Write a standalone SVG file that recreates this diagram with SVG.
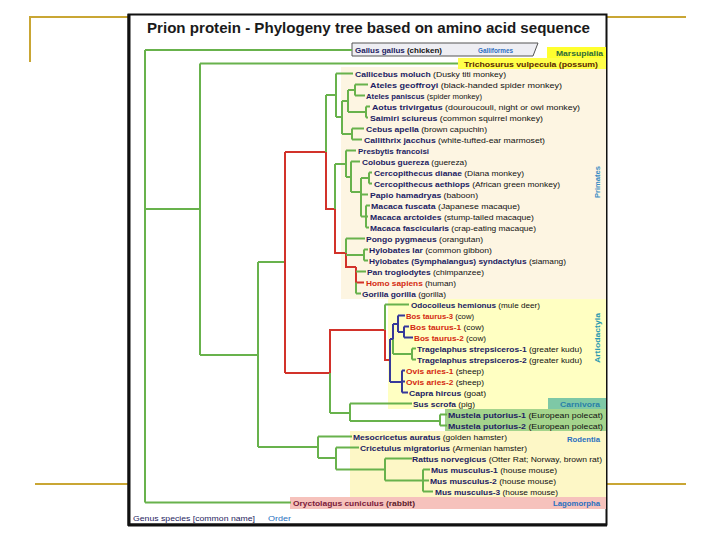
<svg xmlns="http://www.w3.org/2000/svg" width="720" height="540" viewBox="0 0 720 540">
<style>
.gold{stroke:#c9a634;stroke-width:2;fill:none}
.e{fill:none;stroke:#68b24c;stroke-width:2}
.r{stroke:#d2322a}
.b{stroke:#36399a}
text{font-family:"Liberation Sans",Arial,sans-serif;font-size:8px}
.n{font-weight:bold;fill:#221c62}
.rd{font-weight:bold;fill:#d42a10}
.c{fill:#111}
.lab{font-weight:bold}
</style>
<rect width="720" height="540" fill="#fff"/>
<g id="slide">
<path class="gold" d="M30 62V17H128M606 17H686M35 484H128M606 484H686"/>
<rect x="128.5" y="14.5" width="478" height="510" fill="#fff" stroke="#111" stroke-width="2"/>
<path d="M129 14V526M128 525H607" stroke="#111" stroke-width="3"/>
</g>
<text id="title" x="147" y="33" textLength="443" lengthAdjust="spacingAndGlyphs" style="font-size:15px;font-weight:bold;fill:#1a1a1a">Prion protein - Phylogeny tree based on amino acid sequence</text>
<g id="backgrounds">
<rect x="341" y="67" width="265" height="232" fill="#fdf5e2"/>
<rect x="388" y="299" width="218" height="110" fill="#ffffc2"/>
<rect x="548" y="398" width="58" height="11" fill="#7ec8a6"/>
<rect x="445" y="409" width="161" height="22" fill="#a4d48c"/>
<rect x="350" y="431" width="256" height="66" fill="#fdf7c6"/>
<rect x="290" y="497" width="316" height="12" fill="#f6c2bc"/>
<polygon points="352,43 538,43 533,56 352,56" fill="#eeeef3" stroke="#555" stroke-width="1"/>
<rect x="547" y="47" width="59" height="12" fill="#ffff2e"/>
<rect x="458" y="58" width="148" height="11" fill="#ffff4a"/>
</g>
<g id="connectors">
<path class="e" d="M145 50V502.5M145 50H352M145 209H200M145 502.5H291"/>
<path class="e" d="M200 63.5V355M200 63.5H458M200 355H258"/>
<path class="e" d="M258 262V447M258 262H285M258 447H318"/>
<path class="e r" d="M285 152V373M285 152H326M285 373H330M326 152V209H335M335 209V253H346M346 253V267H356M356 267V282.5H364M330 373V330H385M385 330V360H390"/>
<path class="e" d="M326 95V152M326 95H336M336 73.5V117M336 73.5H353M336 117H342M342 101V134M342 101H348M342 134H352M348 90V112M348 90H355M348 112H366M355 84.5V95.5M355 84.5H368M355 95.5H365M366 106.5V117.5M366 106.5H370M366 117.5H368M352 128.5V139.5M352 128.5H364M352 139.5H362"/>
<path class="e" d="M335 164V209M335 164H346M346 150.5V177M346 150.5H356M346 177H351M351 161.5V192M351 161.5H360M351 192H361M361 178V216.5M361 178H369M361 194.5H368M361 216.5H368M369 172.5V183.5M369 172.5H372M369 183.5H372M366 205.5V227.5M366 205.5H370M366 227.5H369"/>
<path class="e" d="M346 238.5V253M346 238.5H365M346 255H364M364 249.5V260.5M364 249.5H368M364 260.5H368M356 282.5V293.5M356 271.5H366M356 293.5H361"/>
<path class="e" d="M330 373V413M330 413H350M385 304.5V330M385 304.5H409M393 339V354M393 354H412M412 348.5V359.5M412 348.5H416M412 359.5H416"/>
<path class="e b" d="M390 339V382M390 339H393M393 324V339M393 324H398M398 315.5V332M398 315.5H405M398 332H404M404 326.5V337.5M404 326.5H409M404 337.5H413M390 382H402M402 370.5V392.5M402 370.5H405M402 381.5H405M402 392.5H408"/>
<path class="e" d="M350 403.5V421M350 403.5H412M350 421H440M440 414.5V425.5M440 414.5H447M440 425.5H447"/>
<path class="e" d="M318 436.5V458M318 436.5H352M318 458H336M336 447.5V469.5M336 447.5H359M336 469.5H385M385 458.5V480.5M385 458.5H412M385 480.5H423M423 469.5V491.5M423 469.5H430M423 480.5H429M423 491.5H433"/>
</g>
<g id="labels">
<text x="478" y="53" textLength="35" lengthAdjust="spacingAndGlyphs" class="lab" fill="#2f6fc0">Galliformes</text>
<text x="556" y="56" textLength="47" lengthAdjust="spacingAndGlyphs" class="lab" fill="#2d6b3a">Marsupialia</text>
<text transform="translate(600,182) rotate(-90)" text-anchor="middle" textLength="32" lengthAdjust="spacingAndGlyphs" class="lab" fill="#3a8cc4">Primates</text>
<text transform="translate(600,338) rotate(-90)" text-anchor="middle" textLength="50" lengthAdjust="spacingAndGlyphs" class="lab" fill="#2a9ab0">Artiodactyla</text>
<text x="560" y="407" textLength="40" lengthAdjust="spacingAndGlyphs" class="lab" fill="#2a80a8">Carnivora</text>
<text x="567" y="442" textLength="33" lengthAdjust="spacingAndGlyphs" class="lab" fill="#2a70c0">Rodentia</text>
<text x="553" y="506" textLength="47" lengthAdjust="spacingAndGlyphs" class="lab" fill="#2a70c0">Lagomorpha</text>
<text x="133" y="521" textLength="122" lengthAdjust="spacingAndGlyphs" fill="#1e1b5e">Genus species [common name]</text>
<text x="268" y="521" textLength="23" lengthAdjust="spacingAndGlyphs" fill="#2a70c0">Order</text>
</g>
<g id="n-gallus"><text x="355" y="53" textLength="87" lengthAdjust="spacingAndGlyphs"><tspan class="n">Gallus gallus</tspan><tspan class="c" style="font-weight:bold"> (chicken)</tspan></text></g>
<g id="n-trichosurus"><text x="464" y="66.5" textLength="134" lengthAdjust="spacingAndGlyphs" style="font-weight:bold;fill:#5a2800">Trichosurus vulpecula (possum)</text></g>
<g id="n-callicebus"><text x="355" y="76.5" textLength="151" lengthAdjust="spacingAndGlyphs"><tspan class="n">Callicebus moluch</tspan><tspan class="c"> (Dusky titi monkey)</tspan></text></g>
<g id="n-ateles-g"><text x="370" y="87.5" textLength="192" lengthAdjust="spacingAndGlyphs"><tspan class="n">Ateles geoffroyi</tspan><tspan class="c"> (black-handed spider monkey)</tspan></text></g>
<g id="n-ateles-p"><text x="366" y="98.5" textLength="116" lengthAdjust="spacingAndGlyphs"><tspan class="n">Ateles paniscus</tspan><tspan class="c"> (spider monkey)</tspan></text></g>
<g id="n-aotus"><text x="372" y="109.5" textLength="208" lengthAdjust="spacingAndGlyphs"><tspan class="n">Aotus trivirgatus</tspan><tspan class="c"> (douroucouli, night or owl monkey)</tspan></text></g>
<g id="n-saimiri"><text x="370" y="120.5" textLength="173" lengthAdjust="spacingAndGlyphs"><tspan class="n">Saimiri sciureus</tspan><tspan class="c"> (common squirrel monkey)</tspan></text></g>
<g id="n-cebus"><text x="366" y="131.5" textLength="121" lengthAdjust="spacingAndGlyphs"><tspan class="n">Cebus apella</tspan><tspan class="c"> (brown capuchin)</tspan></text></g>
<g id="n-callithrix"><text x="364" y="142.5" textLength="181" lengthAdjust="spacingAndGlyphs"><tspan class="n">Callithrix jacchus</tspan><tspan class="c"> (white-tufted-ear marmoset)</tspan></text></g>
<g id="n-presbytis"><text x="358" y="153.5" textLength="71" lengthAdjust="spacingAndGlyphs"><tspan class="n">Presbytis francoisi</tspan></text></g>
<g id="n-colobus"><text x="362" y="164.5" textLength="105" lengthAdjust="spacingAndGlyphs"><tspan class="n">Colobus guereza</tspan><tspan class="c"> (guereza)</tspan></text></g>
<g id="n-cerco-d"><text x="374" y="175.5" textLength="150" lengthAdjust="spacingAndGlyphs"><tspan class="n">Cercopithecus dianae</tspan><tspan class="c"> (Diana monkey)</tspan></text></g>
<g id="n-cerco-a"><text x="374" y="186.5" textLength="186" lengthAdjust="spacingAndGlyphs"><tspan class="n">Cercopithecus aethiops</tspan><tspan class="c"> (African green monkey)</tspan></text></g>
<g id="n-papio"><text x="370" y="197.5" textLength="108" lengthAdjust="spacingAndGlyphs"><tspan class="n">Papio hamadryas</tspan><tspan class="c"> (baboon)</tspan></text></g>
<g id="n-macaca-fu"><text x="371" y="208.5" textLength="149" lengthAdjust="spacingAndGlyphs"><tspan class="n">Macaca fuscata</tspan><tspan class="c"> (Japanese macaque)</tspan></text></g>
<g id="n-macaca-ar"><text x="370" y="219.5" textLength="164" lengthAdjust="spacingAndGlyphs"><tspan class="n">Macaca arctoides</tspan><tspan class="c"> (stump-tailed macaque)</tspan></text></g>
<g id="n-macaca-fa"><text x="370" y="230.5" textLength="166" lengthAdjust="spacingAndGlyphs"><tspan class="n">Macaca fascicularis</tspan><tspan class="c"> (crap-eating macaque)</tspan></text></g>
<g id="n-pongo"><text x="366" y="241.5" textLength="117" lengthAdjust="spacingAndGlyphs"><tspan class="n">Pongo pygmaeus</tspan><tspan class="c"> (orangutan)</tspan></text></g>
<g id="n-hylobates-l"><text x="369" y="252.5" textLength="123" lengthAdjust="spacingAndGlyphs"><tspan class="n">Hylobates lar</tspan><tspan class="c"> (common gibbon)</tspan></text></g>
<g id="n-hylobates-s"><text x="369" y="263.5" textLength="197" lengthAdjust="spacingAndGlyphs"><tspan class="n">Hylobates (Symphalangus) syndactylus</tspan><tspan class="c"> (siamang)</tspan></text></g>
<g id="n-pan"><text x="367" y="274.5" textLength="117" lengthAdjust="spacingAndGlyphs"><tspan class="n">Pan troglodytes</tspan><tspan class="c"> (chimpanzee)</tspan></text></g>
<g id="n-homo"><text x="366" y="285.5" textLength="90" lengthAdjust="spacingAndGlyphs"><tspan class="rd">Homo sapiens</tspan><tspan class="c"> (human)</tspan></text></g>
<g id="n-gorilla"><text x="362" y="296.5" textLength="84" lengthAdjust="spacingAndGlyphs"><tspan class="n">Gorilla gorilla</tspan><tspan class="c"> (gorilla)</tspan></text></g>
<g id="n-odocoileus"><text x="411" y="307.5" textLength="129" lengthAdjust="spacingAndGlyphs"><tspan class="n">Odocoileus hemionus</tspan><tspan class="c"> (mule deer)</tspan></text></g>
<g id="n-bos3"><text x="406" y="318.5" textLength="68" lengthAdjust="spacingAndGlyphs"><tspan class="rd">Bos taurus-3</tspan><tspan class="c"> (cow)</tspan></text></g>
<g id="n-bos1"><text x="410" y="329.5" textLength="74" lengthAdjust="spacingAndGlyphs"><tspan class="rd">Bos taurus-1</tspan><tspan class="c"> (cow)</tspan></text></g>
<g id="n-bos2"><text x="414" y="340.5" textLength="72" lengthAdjust="spacingAndGlyphs"><tspan class="rd">Bos taurus-2</tspan><tspan class="c"> (cow)</tspan></text></g>
<g id="n-trag1"><text x="417" y="351.5" textLength="165" lengthAdjust="spacingAndGlyphs"><tspan class="n">Tragelaphus strepsiceros-1</tspan><tspan class="c"> (greater kudu)</tspan></text></g>
<g id="n-trag2"><text x="417" y="362.5" textLength="165" lengthAdjust="spacingAndGlyphs"><tspan class="n">Tragelaphus strepsiceros-2</tspan><tspan class="c"> (greater kudu)</tspan></text></g>
<g id="n-ovis1"><text x="406" y="373.5" textLength="78" lengthAdjust="spacingAndGlyphs"><tspan class="rd">Ovis aries-1</tspan><tspan class="c"> (sheep)</tspan></text></g>
<g id="n-ovis2"><text x="406" y="384.5" textLength="78" lengthAdjust="spacingAndGlyphs"><tspan class="rd">Ovis aries-2</tspan><tspan class="c"> (sheep)</tspan></text></g>
<g id="n-capra"><text x="409" y="395.5" textLength="77" lengthAdjust="spacingAndGlyphs"><tspan class="n">Capra hircus</tspan><tspan class="c"> (goat)</tspan></text></g>
<g id="n-sus"><text x="413" y="406.5" textLength="62" lengthAdjust="spacingAndGlyphs"><tspan class="n">Sus scrofa</tspan><tspan class="c"> (pig)</tspan></text></g>
<g id="n-mustela1"><text x="448" y="417.5" textLength="155" lengthAdjust="spacingAndGlyphs"><tspan class="n">Mustela putorius-1</tspan><tspan class="c"> (European polecat)</tspan></text></g>
<g id="n-mustela2"><text x="448" y="428.5" textLength="155" lengthAdjust="spacingAndGlyphs"><tspan class="n">Mustela putorius-2</tspan><tspan class="c"> (European polecat)</tspan></text></g>
<g id="n-mesocricetus"><text x="353" y="439.5" textLength="154" lengthAdjust="spacingAndGlyphs"><tspan class="n">Mesocricetus auratus</tspan><tspan class="c"> (golden hamster)</tspan></text></g>
<g id="n-cricetulus"><text x="360" y="450.5" textLength="167" lengthAdjust="spacingAndGlyphs"><tspan class="n">Cricetulus migratorius</tspan><tspan class="c"> (Armenian hamster)</tspan></text></g>
<g id="n-rattus"><text x="412" y="461.5" textLength="190" lengthAdjust="spacingAndGlyphs"><tspan class="n">Rattus norvegicus</tspan><tspan class="c"> (Otter Rat; Norway, brown rat)</tspan></text></g>
<g id="n-mus1"><text x="431" y="472.5" textLength="126" lengthAdjust="spacingAndGlyphs"><tspan class="n">Mus musculus-1</tspan><tspan class="c"> (house mouse)</tspan></text></g>
<g id="n-mus2"><text x="430" y="483.5" textLength="126" lengthAdjust="spacingAndGlyphs"><tspan class="n">Mus musculus-2</tspan><tspan class="c"> (house mouse)</tspan></text></g>
<g id="n-mus3"><text x="435" y="494.5" textLength="123" lengthAdjust="spacingAndGlyphs"><tspan class="n">Mus musculus-3</tspan><tspan class="c"> (house mouse)</tspan></text></g>
<g id="n-oryctolagus"><text x="293" y="505.5" textLength="122" lengthAdjust="spacingAndGlyphs"><tspan style="font-weight:bold;fill:#7a1a3a">Oryctolagus cuniculus</tspan><tspan class="c" style="font-weight:bold;fill:#5a1a2a"> (rabbit)</tspan></text></g>
</svg>
